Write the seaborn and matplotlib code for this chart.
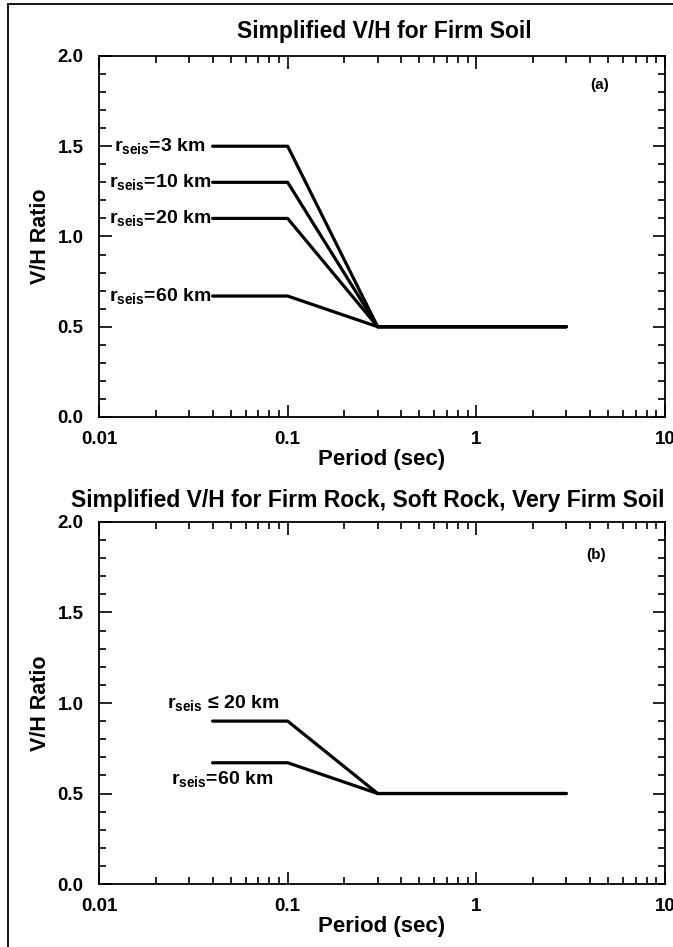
import matplotlib
matplotlib.use("Agg")
import matplotlib.pyplot as plt
import matplotlib.ticker as mticker
from matplotlib.patches import Rectangle
import pandas as pd
import seaborn as sns

# period breakpoints (sec)
period = [0.04, 0.1, 0.3, 3.0]

# panel (a): firm soil
soil_labels = ["3 km", "10 km", "20 km", "60 km"]
soil_vh = [1.5, 1.3, 1.1, 0.67]
# panel (b): firm rock, soft rock, very firm soil
rock_labels = ["\u2264 20 km", "60 km"]
rock_vh = [0.9, 0.67]
flat_vh = 0.5

sns.set_theme(style="ticks")
plt.rcParams["font.family"] = ["Liberation Sans", "DejaVu Sans"]
plt.rcParams["font.weight"] = "bold"
plt.rcParams["text.color"] = "black"
plt.rcParams["axes.labelcolor"] = "black"
plt.rcParams["xtick.color"] = "black"
plt.rcParams["ytick.color"] = "black"
plt.rcParams["mathtext.fontset"] = "custom"
plt.rcParams["mathtext.rm"] = "Liberation Sans:bold"
plt.rcParams["mathtext.bf"] = "Liberation Sans:bold"


def curve_frame(labels, plateaus):
    rows = []
    for lab, v in zip(labels, plateaus):
        for p, y in zip(period, [v, v, flat_vh, flat_vh]):
            rows.append({"r": lab, "period": p, "vh": y})
    return pd.DataFrame(rows)


fig = plt.figure(figsize=(6.73, 9.47), dpi=100)
ax_a = fig.add_axes([0.1471, 0.5597, 0.8409, 0.3812])
ax_b = fig.add_axes([0.1471, 0.0665, 0.8409, 0.3823])

for ax, labels, vals in [(ax_a, soil_labels, soil_vh), (ax_b, rock_labels, rock_vh)]:
    df = curve_frame(labels, vals)
    sns.lineplot(data=df, x="period", y="vh", units="r", estimator=None,
                 color="black", lw=2.3, ax=ax, legend=False, sort=False)
    ax.set_xscale("log")
    ax.set_xlim(0.01, 10)
    ax.set_ylim(0, 2.0)
    ax.xaxis.set_major_locator(mticker.FixedLocator([0.01, 0.1, 1, 10]))
    ax.xaxis.set_major_formatter(mticker.FixedFormatter(["0.01", "0.1", "1", "10"]))
    ax.xaxis.set_minor_locator(mticker.LogLocator(base=10, subs=range(2, 10)))
    ax.xaxis.set_minor_formatter(mticker.NullFormatter())
    ax.yaxis.set_major_locator(mticker.MultipleLocator(0.5))
    ax.yaxis.set_minor_locator(mticker.MultipleLocator(0.1))
    ax.yaxis.set_major_formatter(mticker.FormatStrFormatter("%.1f"))
    ax.tick_params(which="both", direction="in", top=True, right=True,
                   width=1.2, color="black", labelsize=13.5)
    ax.tick_params(axis="x", pad=10)
    ax.tick_params(axis="y", pad=11)
    ax.tick_params(which="major", length=9)
    ax.tick_params(which="minor", length=5)
    for s in ax.spines.values():
        s.set_linewidth(1.3)
        s.set_color("black")
        s.set_visible(True)
    ax.set_xlabel("Period (sec)", fontsize=16, fontweight="bold", labelpad=1)
    ax.set_ylabel("V/H Ratio", fontsize=15.5, fontweight="bold", labelpad=5)
    for t in ax.get_xticklabels() + ax.get_yticklabels():
        t.set_fontweight("bold")

# labels for panel (a)
for lab, v in zip(soil_labels, soil_vh):
    ax_a.text(0.0395 if lab != "3 km" else 0.0365, v - 0.03,
              r"r$_{\mathbf{seis}}$=" + lab, ha="right", va="baseline",
              fontsize=14, fontweight="bold")
ax_a.text(4.5, 1.84, "(a)", ha="center", va="center", fontsize=11, fontweight="bold")

# labels for panel (b)
ax_b.text(0.023, rock_vh[0] + 0.07, r"r$_{\mathbf{seis}}$ " + rock_labels[0],
          ha="left", va="baseline", fontsize=14, fontweight="bold")
ax_b.text(0.024, rock_vh[1] - 0.12, r"r$_{\mathbf{seis}}$=" + rock_labels[1],
          ha="left", va="baseline", fontsize=14, fontweight="bold")
ax_b.text(4.3, 1.82, "(b)", ha="center", va="center", fontsize=11, fontweight="bold")

fig.text(0.571, 0.967, "Simplified V/H for Firm Soil", ha="center", va="center",
         fontsize=16.5, fontweight="bold")
fig.text(0.547, 0.472, "Simplified V/H for Firm Rock, Soft Rock, Very Firm Soil",
         ha="center", va="center", fontsize=16.5, fontweight="bold")

fig.patches.append(Rectangle((0.012, -0.01), 1.0, 1.0058, transform=fig.transFigure,
                             fill=False, lw=1.3, edgecolor="black"))

fig.savefig("out.png", dpi=100)
